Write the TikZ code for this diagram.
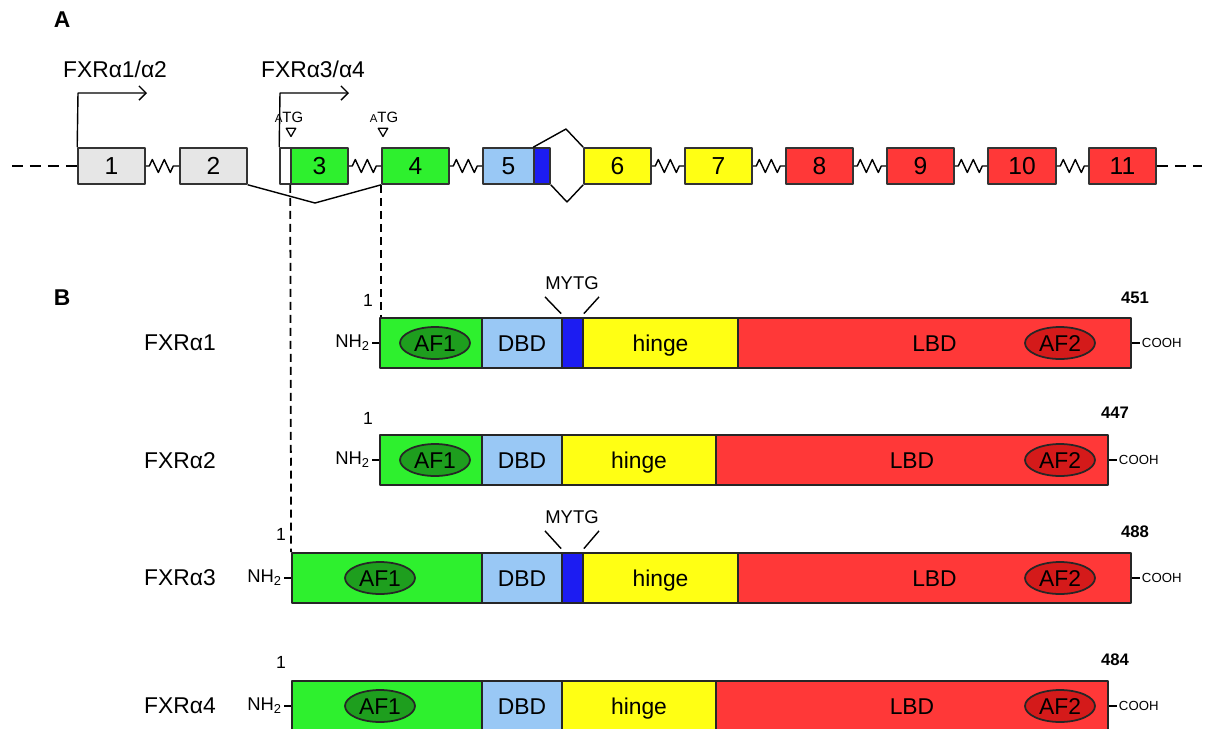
\documentclass[tikz,border=0pt]{standalone}
\usepackage{fontspec}
\setmainfont{Liberation Sans}
\usetikzlibrary{calc,arrows.meta,positioning,decorations.pathmorphing,shapes.geometric}

\definecolor{exgray}{HTML}{E6E6E6}
\definecolor{fxgreen}{HTML}{2EF02E}
\definecolor{fxlblue}{HTML}{99C8F5}
\definecolor{fxblue}{HTML}{1C1CF2}
\definecolor{fxyellow}{HTML}{FFFF14}
\definecolor{fxred}{HTML}{FF3838}
\definecolor{afgreen}{HTML}{1E9E1E}
\definecolor{afred}{HTML}{D41A1A}

\tikzset{
  exon/.style={draw=black!80, line width=0.9pt, minimum height=0.72cm, inner sep=0pt,
    text height=10pt, text depth=0pt, font=\fontsize{14}{14}\selectfont},
  dom/.style={draw=black!85, line width=1pt, minimum height=1cm, inner sep=0pt,
    text height=9.3pt, text depth=0pt, font=\fontsize{13}{13}\selectfont},
  afell/.style={draw=black!85, ellipse, line width=1pt, minimum width=1.4cm,
    minimum height=0.64cm, inner sep=0pt, text height=9.3pt, text depth=0pt,
    font=\fontsize{13}{13}\selectfont},
  intron/.style={line width=0.8pt, decorate, decoration={zigzag, segment length=0.24cm,
    amplitude=0.13cm, pre length=0.07cm, post length=0.07cm}},
  flank/.style={line width=0.8pt, dash pattern=on 0.22cm off 0.14cm},
  guide/.style={line width=1pt, dash pattern=on 0.16cm off 0.1cm},
  atgmark/.style={draw, regular polygon, regular polygon sides=3, shape border rotate=180,
    minimum size=0.22cm, inner sep=0pt, line width=0.7pt},
  tss/.style={line width=0.8pt, -{Straight Barb[length=4pt,width=8pt]}},
  isolab/.style={font=\fontsize{13}{13}\selectfont},
  numlab/.style={font=\bfseries\fontsize{9.5}{10}\selectfont, inner sep=0pt},
  termlab/.style={inner sep=1pt}
}

\begin{document}
\begin{tikzpicture}[x=0.02cm, y=-0.02cm, line join=round]
\useasboundingbox (0,0) rectangle (1205,728);
% panel letters
\node[font=\bfseries\fontsize{13}{13}\selectfont] (pa) at (62,20) {A};
\node[font=\bfseries\fontsize{13}{13}\selectfont] (pb) at (62,298) {B};
% gene structure
\foreach \n/\xa/\xb/\c in {1/78/145/exgray, 2/180/247/exgray, 3/291/348/fxgreen,
    4/382/449/fxgreen, 5/483/534/fxlblue, 6/584/651/fxyellow, 7/685/752/fxyellow,
    8/786/853/fxred, 9/887/954/fxred, 10/988/1056/fxred, 11/1089/1156/fxred}
  \node[exon, fill=\c, minimum width={(\xb-\xa)*0.02cm}] (e\n) at ({(\xa+\xb)/2},166) {\n};
\node[exon, fill=white, minimum width=0.22cm] (e3a) at (285.5,166) {};
\node[exon, fill=fxblue, minimum width=0.32cm] (e5b) at (542,166) {};
\coordinate (gl) at (12,166);
\coordinate (gr) at (1202,166);
\draw[flank] (gl) -- (e1.west);
\draw[flank] (e11.east) -- (gr);
\foreach \a/\b in {1/2, 3/4, 4/5, 6/7, 7/8, 8/9, 9/10, 10/11}
  \draw[intron] (e\a.east) -- (e\b.west);
% splicing
\coordinate (sp1) at (315,203);
\coordinate (sp2) at (566,129);
\coordinate (sp3) at (567,202);
\draw[line width=0.8pt] (e2.south east) -- (sp1) -- (e4.south west);
\draw[line width=0.8pt] (e5b.north west) -- (sp2) -- (e6.north west);
\draw[line width=0.8pt] (e5b.south east) -- (sp3) -- (e6.south west);
% promoters
\coordinate (p1) at (78,93);
\coordinate (p2) at (280,93);
\draw[tss] (e1.north west) -- (p1) -- ++(69,0);
\draw[tss] (e3a.north west) -- (p2) -- ++(69,0);
\node[isolab] (pr1) at (115,69) {FXRα1/α2};
\node[isolab] (pr2) at (313,69) {FXRα3/α4};
% start codons
\node[atgmark] (t3) at (291,131) {};
\node[atgmark] (t4) at (383,131) {};
\node[font=\fontsize{8.5}{9}\selectfont, inner sep=0pt] (atg3) at (289,117) {{\fontsize{6.5}{7}\selectfont A}TG};
\node[font=\fontsize{8.5}{9}\selectfont, inner sep=0pt] (atg4) at (384,117) {{\fontsize{6.5}{7}\selectfont A}TG};

% FXRa1
\foreach \d/\xa/\xb/\c/\t in {af/380/482/fxgreen/{}, dbd/482/562/fxlblue/DBD,
    my/562/583/fxblue/{}, hg/583/738/fxyellow/hinge, lbd/738/1131/fxred/LBD}
  \node[dom, fill=\c, minimum width={(\xb-\xa)*0.02cm}] (r1\d) at ({(\xa+\xb)/2},343) {\t};
% FXRa2
\foreach \d/\xa/\xb/\c/\t in {af/380/482/fxgreen/{}, dbd/482/562/fxlblue/DBD,
    hg/562/716/fxyellow/hinge, lbd/716/1108/fxred/LBD}
  \node[dom, fill=\c, minimum width={(\xb-\xa)*0.02cm}] (r2\d) at ({(\xa+\xb)/2},460) {\t};
% FXRa3
\foreach \d/\xa/\xb/\c/\t in {af/292/482/fxgreen/{}, dbd/482/562/fxlblue/DBD,
    my/562/583/fxblue/{}, hg/583/738/fxyellow/hinge, lbd/738/1131/fxred/LBD}
  \node[dom, fill=\c, minimum width={(\xb-\xa)*0.02cm}] (r3\d) at ({(\xa+\xb)/2},578) {\t};
% FXRa4
\foreach \d/\xa/\xb/\c/\t in {af/292/482/fxgreen/{}, dbd/482/562/fxlblue/DBD,
    hg/562/716/fxyellow/hinge, lbd/716/1108/fxred/LBD}
  \node[dom, fill=\c, minimum width={(\xb-\xa)*0.02cm}] (r4\d) at ({(\xa+\xb)/2},706) {\t};

% activation functions
\node[afell, fill=afgreen] (r1af1) at (435,343) {AF1};
\node[afell, fill=afgreen] (r2af1) at (435,460) {AF1};
\node[afell, fill=afgreen] (r3af1) at (380,578) {AF1};
\node[afell, fill=afgreen] (r4af1) at (380,706) {AF1};
\foreach \r/\y in {1/343, 2/460, 3/578, 4/706}
  \node[afell, fill=afred] (r\r af2) at (1060,\y) {AF2};

% isoform names
\node[isolab] (n1) at (180,343) {FXRα1};
\node[isolab] (n2) at (180,461) {FXRα2};
\node[isolab] (n3) at (180,578) {FXRα3};
\node[isolab] (n4) at (180,706) {FXRα4};

% termini
\foreach \r in {1,2,3,4} {
  \draw[line width=0.8pt] (r\r af.west) -- ++(-7,0) coordinate (nh\r);
  \node[termlab, anchor=east, font=\fontsize{10.5}{11}\selectfont] at (nh\r) {NH\textsubscript{2}};
  \draw[line width=0.8pt] (r\r lbd.east) -- ++(8,0) coordinate (co\r);
  \node[termlab, anchor=west, font=\fontsize{7.5}{8}\selectfont] at (co\r) {COOH};
}
\node[numlab, font=\fontsize{10}{10}\selectfont] (s1) at (368,300) {1};
\node[numlab, font=\fontsize{10}{10}\selectfont] (s2) at (368,418) {1};
\node[numlab, font=\fontsize{10}{10}\selectfont] (s3) at (281,534) {1};
\node[numlab, font=\fontsize{10}{10}\selectfont] (s4) at (281,662) {1};
\node[numlab] (l1) at (1135,298) {451};
\node[numlab] (l2) at (1115,413) {447};
\node[numlab] (l3) at (1135,532) {488};
\node[numlab] (l4) at (1115,660) {484};

% MYTG insert
\node[font=\fontsize{10.5}{11}\selectfont, inner sep=0pt] (my1) at (572,283) {MYTG};
\node[font=\fontsize{10.5}{11}\selectfont, inner sep=0pt] (my3) at (572,517) {MYTG};
\draw[line width=0.8pt] ([yshift=-4pt]my1.south west) -- ([yshift=2pt]r1my.north west);
\draw[line width=0.8pt] ([yshift=-4pt]my1.south east) -- ([yshift=2pt]r1my.north east);
\draw[line width=0.8pt] ([yshift=-4pt]my3.south west) -- ([yshift=2pt]r3my.north west);
\draw[line width=0.8pt] ([yshift=-4pt]my3.south east) -- ([yshift=2pt]r3my.north east);

% exon to protein
\draw[guide] (e3.south west) -- (r3af.north west);
\draw[guide] (e4.south west) -- (e4.south west |- r1af.north);
\end{tikzpicture}
\end{document}
